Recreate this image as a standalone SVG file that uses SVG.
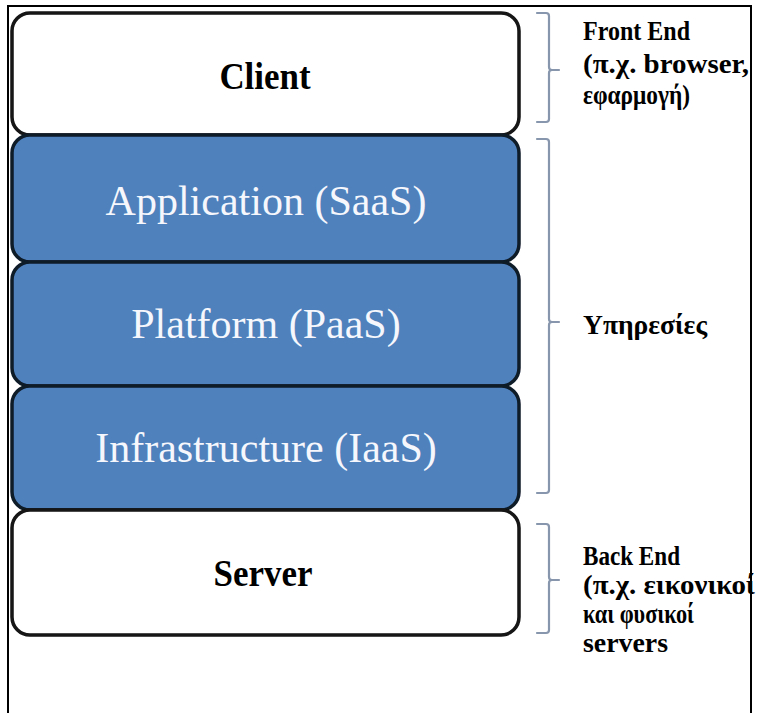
<svg xmlns="http://www.w3.org/2000/svg" width="757" height="713" viewBox="0 0 757 713">
  <style>
    .frame { fill: #ffffff; stroke: #000000; stroke-width: 2; }
    .box-light { fill: #ffffff; stroke: #121212; stroke-width: 3.5; }
    .box-blue { fill: #4f81bd; stroke: #0e1a28; stroke-width: 3.5; }
    .lbl-dark { font-family: "Liberation Serif", "Times New Roman", serif; font-weight: bold; font-size: 38px; fill: #000000; text-anchor: middle; }
    .lbl-light { font-family: "Liberation Serif", "Times New Roman", serif; font-size: 42px; fill: #f5f7fc; text-anchor: middle; }
    .note { font-family: "Liberation Serif", "Times New Roman", serif; font-weight: bold; font-size: 27px; fill: #000000; }
    .brace { fill: none; stroke: #8796ad; stroke-width: 2.2; stroke-linecap: round; stroke-linejoin: round; }
  </style>
  <defs>
    <filter id="soft" x="-5%" y="-5%" width="110%" height="110%">
      <feGaussianBlur stdDeviation="0.6"/>
    </filter>
  </defs>

  <!-- outer frame -->
  <rect class="frame" x="8" y="6" width="743" height="720"/>

  <!-- layer stack -->
  <g id="client">
    <rect class="box-light" x="12" y="13" width="507" height="122" rx="18" filter="url(#soft)"/>
    <text class="lbl-dark" transform="translate(265 89) scale(0.92 1)">Client</text>
  </g>
  <g id="saas">
    <rect class="box-blue" x="12" y="135" width="507" height="127" rx="18" filter="url(#soft)"/>
    <text class="lbl-light" x="266" y="215">Application (SaaS)</text>
  </g>
  <g id="paas">
    <rect class="box-blue" x="12" y="262" width="507" height="124" rx="18" filter="url(#soft)"/>
    <text class="lbl-light" x="266" y="338">Platform (PaaS)</text>
  </g>
  <g id="iaas">
    <rect class="box-blue" x="12" y="386" width="507" height="124" rx="18" filter="url(#soft)"/>
    <text class="lbl-light" x="266" y="462">Infrastructure (IaaS)</text>
  </g>
  <g id="server">
    <rect class="box-light" x="12" y="510" width="507" height="125" rx="18" filter="url(#soft)"/>
    <text class="lbl-dark" transform="translate(263 586) scale(0.92 1)">Server</text>
  </g>

  <!-- braces grouping the layers -->
  <g id="connectors">
    <path class="brace" d="M537 13 H546 Q549 13 549 16 V67 Q549 70 552 70 H559 M552 70 Q549 70 549 73 V119 Q549 122 546 122 H537"/>
    <path class="brace" d="M537 139 H546 Q549 139 549 142 V319 Q549 322 552 322 H559 M552 322 Q549 322 549 325 V490 Q549 493 546 493 H537"/>
    <path class="brace" d="M537 524 H546 Q549 524 549 527 V577 Q549 580 552 580 H559 M552 580 Q549 580 549 583 V630 Q549 633 546 633 H537"/>
  </g>

  <!-- side notes -->
  <g id="front-end-note">
    <text class="note" x="583" y="40" textLength="107" lengthAdjust="spacingAndGlyphs">Front End</text>
    <text class="note" x="583" y="73" textLength="166" lengthAdjust="spacingAndGlyphs">(π.χ. browser,</text>
    <text class="note" x="583" y="104" textLength="107" lengthAdjust="spacingAndGlyphs">εφαρμογή)</text>
  </g>
  <g id="services-note">
    <text class="note" x="583" y="334" textLength="124" lengthAdjust="spacingAndGlyphs">Υπηρεσίες</text>
  </g>
  <g id="back-end-note">
    <text class="note" x="583" y="565" textLength="97" lengthAdjust="spacingAndGlyphs">Back End</text>
    <text class="note" x="583" y="594" textLength="172" lengthAdjust="spacingAndGlyphs">(π.χ. εικονικοί</text>
    <text class="note" x="583" y="623" textLength="111" lengthAdjust="spacingAndGlyphs">και φυσικοί</text>
    <text class="note" x="583" y="652" textLength="85" lengthAdjust="spacingAndGlyphs">servers</text>
  </g>
</svg>
